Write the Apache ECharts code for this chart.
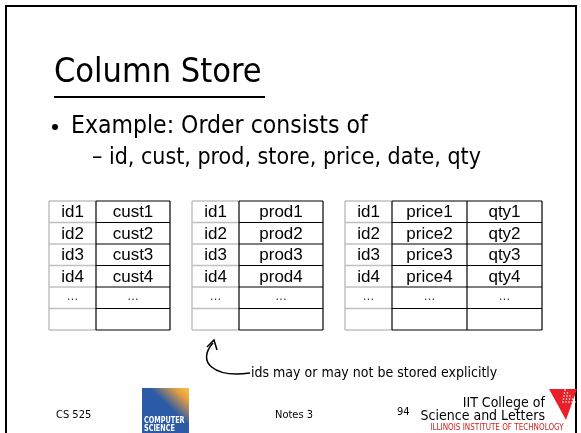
<!DOCTYPE html>
<html><head><meta charset="utf-8">
<script src="https://cdn.jsdelivr.net/npm/echarts@6/dist/echarts.min.js"></script>
<style>html,body{margin:0;padding:0;background:#fff}#c{width:581px;height:433px}</style>
</head><body><div id="c"></div>
<script>
var titleText = 'Column Store';
var bullet1 = 'Example: Order consists of';
var bullet2 = '\u2013 id, cust, prod, store, price, date, qty';
var idCol = ['id1','id2','id3','id4','...',''];
var custCol = ['cust1','cust2','cust3','cust4','...',''];
var prodCol = ['prod1','prod2','prod3','prod4','...',''];
var priceCol = ['price1','price2','price3','price4','...',''];
var qtyCol = ['qty1','qty2','qty3','qty4','...',''];
var noteText = 'ids may or may not be stored explicitly';
var footer = {course:'CS 525', notes:'Notes 3', page:'94'};

var chart = echarts.init(document.getElementById('c'), null, {renderer:'canvas'});
var g = [];
var SLIDE = 'DejaVu Sans Condensed';
var TAB = 'Liberation Sans';
// slide border
g.push({type:'rect', shape:{x:6,y:6,width:570,height:440}, style:{fill:'none', stroke:'#000', lineWidth:2}});
// title
g.push({type:'text', x:54, y:73, style:{text:titleText, font:'34px "'+SLIDE+'"', fill:'#000', textVerticalAlign:'middle'}});
g.push({type:'line', shape:{x1:54,y1:97,x2:265,y2:97}, style:{stroke:'#000', lineWidth:2}});
g.push({type:'circle', shape:{cx:55,cy:127,r:3}, style:{fill:'#000'}});
g.push({type:'text', x:71, y:127, style:{text:bullet1, font:'24.5px "'+SLIDE+'"', fill:'#000', textVerticalAlign:'middle'}});
g.push({type:'text', x:92, y:158, style:{text:bullet2, font:'23px "'+SLIDE+'"', fill:'#000', textVerticalAlign:'middle'}});

// tables
var rowTops = [201,222.5,244,265.5,287,308.5,330];
function table(xs, cols) {
  for (var c = 0; c < cols.length; c++) {
    var x0 = xs[c], x1 = xs[c+1];
    var col = cols[c];
    for (var r = 0; r < col.length; r++) {
      var y0 = rowTops[r], y1 = rowTops[r+1];
      var dots = col[r] === '...';
      g.push({type:'text', x:(x0+x1)/2, y:(y0+y1)/2 + (dots? -1:1), style:{text: dots ? '\u2026' : col[r], font: (dots?'12px ':'17px ')+'"'+TAB+'"', fill: dots?'#333':'#000', textAlign:'center', textVerticalAlign:'middle'}});
    }
  }
  var xa = xs[0], xb = xs[1];
  for (var r = 0; r < rowTops.length; r++) {
    g.push({type:'line', shape:{x1:xa,y1:rowTops[r],x2:xb,y2:rowTops[r]}, style:{stroke:'#c0c0c0', lineWidth:1.5}});
  }
  g.push({type:'line', shape:{x1:xa,y1:rowTops[0],x2:xa,y2:rowTops[6]}, style:{stroke:'#c0c0c0', lineWidth:1.5}});
  var xe = xs[xs.length-1];
  for (var r = 0; r < rowTops.length; r++) {
    g.push({type:'line', shape:{x1:xb,y1:rowTops[r],x2:xe,y2:rowTops[r]}, style:{stroke:'#000', lineWidth:1.2}});
  }
  for (var c = 1; c < xs.length; c++) {
    g.push({type:'line', shape:{x1:xs[c],y1:rowTops[0],x2:xs[c],y2:rowTops[6]}, style:{stroke:'#000', lineWidth:1.2}});
  }
}
table([49,96,170],[idCol,custCol]);
table([192,239,323],[idCol,prodCol]);
table([345,392,467,542],[idCol,priceCol,qtyCol]);

// curved arrow
g.push({type:'bezierCurve', shape:{x1:250,y1:373,x2:213,y2:343,cpx1:214,cpy1:378,cpx2:196,cpy2:362}, style:{stroke:'#000', lineWidth:1.5, fill:'none'}});
g.push({type:'polyline', shape:{points:[[207,347],[214,340],[217,350]]}, style:{stroke:'#000', lineWidth:1.5, fill:'none'}});
g.push({type:'text', x:251, y:373, style:{text:noteText, font:'14px "'+SLIDE+'"', fill:'#000', textVerticalAlign:'middle'}});

// footer
g.push({type:'text', x:56, y:415, style:{text:footer.course, font:'11px "'+SLIDE+'"', fill:'#000', textVerticalAlign:'middle'}});
g.push({type:'text', x:275, y:415, style:{text:footer.notes, font:'11px "'+SLIDE+'"', fill:'#000', textVerticalAlign:'middle'}});
g.push({type:'text', x:397, y:412, style:{text:footer.page, font:'11px "'+SLIDE+'"', fill:'#000', textVerticalAlign:'middle'}});
// CS logo
g.push({type:'rect', shape:{x:142,y:388,width:47,height:50}, style:{fill:new echarts.graphic.LinearGradient(1,0,0.6,0.4,[{offset:0,color:'#f5c542'},{offset:0.35,color:'#e8a040'},{offset:1,color:'#2b5aa6'}])}});
g.push({type:'text', x:144, y:421, scaleX:0.8, style:{text:'COMPUTER', font:'bold 9px "DejaVu Sans Condensed"', fill:'#fff', textVerticalAlign:'middle'}});
g.push({type:'text', x:144, y:429, scaleX:0.8, style:{text:'SCIENCE', font:'bold 9px "DejaVu Sans Condensed"', fill:'#fff', textVerticalAlign:'middle'}});
// IIT
g.push({type:'text', x:545, y:403, style:{text:'IIT College of', font:'14px "'+SLIDE+'"', fill:'#000', textAlign:'right', textVerticalAlign:'middle'}});
g.push({type:'text', x:545, y:416, style:{text:'Science and Letters', font:'14px "'+SLIDE+'"', fill:'#000', textAlign:'right', textVerticalAlign:'middle'}});
g.push({type:'text', x:497, y:428, style:{text:'ILLINOIS INSTITUTE OF TECHNOLOGY', font:'8px "'+SLIDE+'"', fill:'#d02020', textAlign:'center', textVerticalAlign:'middle'}});
g.push({type:'polygon', shape:{points:[[549,389],[577,389],[566,420]]}, style:{fill:'#e8202a'}});
for (var i=0;i<5;i++) for (var j=0;j<=i;j++) {
  g.push({type:'circle', shape:{cx:565+j*3-i*0.5, cy:390+i*3, r:0.8}, style:{fill:'#fff'}});
}
chart.setOption({animation:false, graphic:g});
</script></body></html>
